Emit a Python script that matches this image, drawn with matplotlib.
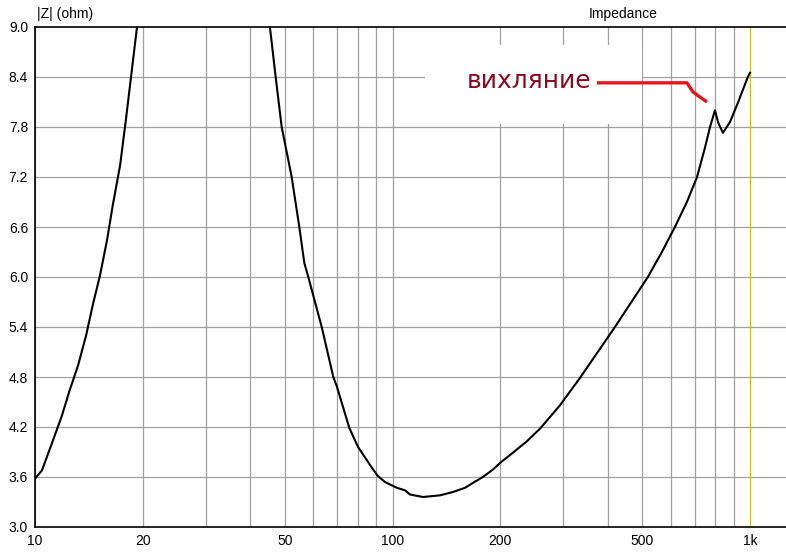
import matplotlib
matplotlib.use("Agg")
import matplotlib.pyplot as plt
from matplotlib.patches import Rectangle

# impedance curve (Hz, ohm); the peak between 20 and 45 Hz is off the scale
freq = [10.0, 10.46, 11.23, 11.9, 12.5, 13.2, 13.9, 14.5, 15.2, 15.9, 16.5, 17.3, 17.95,
        18.56, 19.29, 21.0, 30.0, 42.0, 45.4, 47.12, 48.98, 52.24, 54.87, 56.66, 58.14,
        63.39, 68.3, 69.96, 75.7, 80.1, 87.6, 91.1, 95.3, 102.9, 108.4, 111.9, 121.7,
        135.8, 147.6, 159.5, 168.0, 179.0, 191.0, 200.0, 217.0, 237.8, 258.6, 294.0,
        334.6, 419.0, 518.0, 567.0, 616.6, 666.0, 711.0, 748.0, 773.0, 798.0, 815.0,
        840.0, 879.0, 925.0, 986.0, 1000.0]
imped = [3.58, 3.68, 4.04, 4.34, 4.64, 4.94, 5.30, 5.66, 6.02, 6.44, 6.86, 7.34, 7.88,
         8.40, 9.00, 10.5, 20.0, 10.0, 9.00, 8.40, 7.80, 7.20, 6.60, 6.17, 6.00,
         5.40, 4.80, 4.68, 4.19, 3.96, 3.71, 3.61, 3.54, 3.47, 3.44, 3.39, 3.36,
         3.38, 3.42, 3.47, 3.53, 3.60, 3.69, 3.77, 3.89, 4.03, 4.18, 4.46,
         4.79, 5.40, 6.00, 6.30, 6.60, 6.90, 7.20, 7.55, 7.80, 8.00, 7.85,
         7.73, 7.86, 8.09, 8.40, 8.45]

y_ticks = [3.0, 3.6, 4.2, 4.8, 5.4, 6.0, 6.6, 7.2, 7.8, 8.4, 9.0]
x_grid = [10, 20, 30, 40, 50, 60, 70, 80, 90, 100, 200, 300, 400, 500, 600, 700, 800, 900, 1000]
x_ticks = [10, 20, 50, 100, 200, 500, 1000]
x_labels = ["10", "20", "50", "100", "200", "500", "1k"]

# hand-drawn note pointing at the wobble near 800 Hz
note_text = "вихляние"
note_x = [373, 666, 693, 724, 758]
note_y = [8.33, 8.33, 8.22, 8.16, 8.10]

plt.rcParams["font.family"] = ["Liberation Sans", "DejaVu Sans"]

fig = plt.figure(figsize=(7.86, 5.53), dpi=100)
ax = fig.add_axes([35 / 786, 26 / 553, 751 / 786, 500 / 553])

ax.set_xscale("log")
ax.set_xlim(10, 10 ** (1 + 751 / 357.5))
ax.set_ylim(3.0, 9.0)

for f in x_grid:
    if f == 1000:
        ax.axvline(f, color="#c0c020", lw=0.9, zorder=0.6)
    else:
        ax.axvline(f, color="#a0a0a0", lw=0.9, zorder=0.5)
for z in y_ticks[1:-1]:
    ax.axhline(z, color="#a0a0a0", lw=0.9, zorder=0.5)

# white patch behind the note (covers the grid like in the original)
ax.add_patch(Rectangle((123, 7.84), 500 - 123, 8.78 - 7.84, facecolor="white",
                       edgecolor="none", zorder=1))

ax.plot(freq, imped, color="black", lw=1.5, zorder=3)

ax.plot(note_x, note_y, color="#e8141c", lw=2.4, zorder=3, solid_capstyle="butt")
ax.text(361, 8.27, note_text, color="#8b0a1e", fontsize=18, ha="right", va="baseline",
        family=["DejaVu Sans"], zorder=4)

ax.set_xticks(x_ticks)
ax.set_xticklabels(x_labels)
ax.xaxis.set_minor_locator(matplotlib.ticker.NullLocator())
ax.set_yticks(y_ticks)
ax.set_yticklabels([f"{v:.1f}" for v in y_ticks])
ax.tick_params(axis="both", length=0, labelsize=10, pad=5)

for side in ["left", "top", "bottom"]:
    ax.spines[side].set_color("black")
    ax.spines[side].set_linewidth(1.2)
ax.spines["right"].set_visible(False)

fig.text(37 / 786, 1 - 14 / 553, "|Z| (ohm)", fontsize=10, va="center", ha="left")
fig.text(623 / 786, 1 - 14 / 553, "Impedance", fontsize=10, va="center", ha="center")

fig.savefig("out.png", dpi=100)
